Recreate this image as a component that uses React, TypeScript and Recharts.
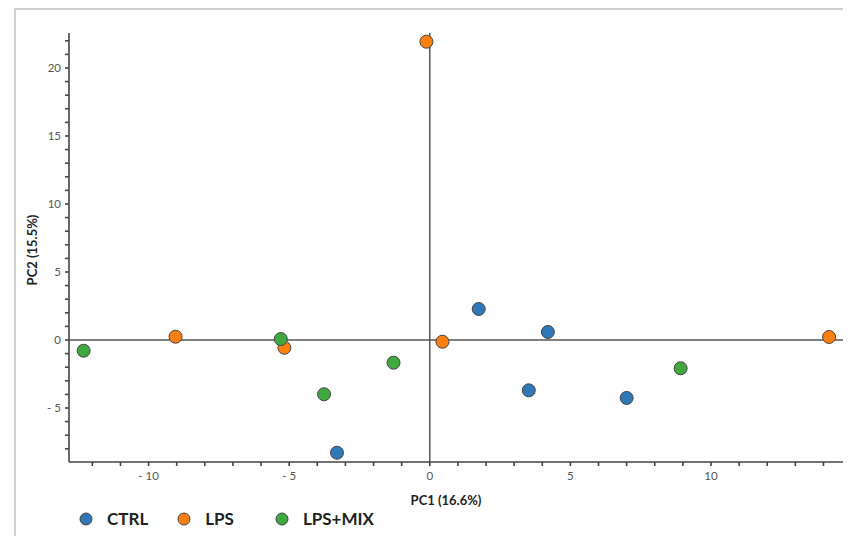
import React from 'react';
import {
  ScatterChart,
  Scatter,
  XAxis,
  YAxis,
  ReferenceLine,
} from 'recharts';

// PCA scores per group
const ctrlPoints = [
  { x: 1.74, y: 2.28 },
  { x: 4.2, y: 0.59 },
  { x: 3.52, y: -3.7 },
  { x: 7.0, y: -4.26 },
  { x: -3.3, y: -8.29 },
];

const lpsPoints = [
  { x: -0.12, y: 21.93 },
  { x: -9.04, y: 0.24 },
  { x: -5.17, y: -0.57 },
  { x: 0.45, y: -0.13 },
  { x: 14.2, y: 0.22 },
];

const mixPoints = [
  { x: -12.31, y: -0.79 },
  { x: -5.3, y: 0.07 },
  { x: -3.76, y: -3.99 },
  { x: -1.29, y: -1.67 },
  { x: 8.92, y: -2.08 },
];

const seriesNames = ['CTRL', 'LPS', 'LPS+MIX'];
const COLORS = ['#2f78b8', '#ff7f0e', '#3fa83f'];

const X_DOMAIN: [number, number] = [-12.83, 14.73];
const Y_DOMAIN: [number, number] = [-8.97, 22.57];

// one tick per unit, labels only on multiples of 5
const xTicks = Array.from({ length: 27 }, (_, i) => i - 12);
const yTicks = Array.from({ length: 31 }, (_, i) => i - 8);

const FONT = 'Lato, "Open Sans", sans-serif';

const fmtTick = (v: number) => {
  if (v % 5 !== 0) return '';
  return v < 0 ? `- ${Math.abs(v)}` : `${v}`;
};

const Dot = (color: string) => (props: any) => (
  <circle cx={props.cx} cy={props.cy} r={6.5} fill={color} stroke="#444" strokeWidth={1} />
);

const App: React.FC = () => {
  const groups = [ctrlPoints, lpsPoints, mixPoints];

  return (
    <div style={{ position: 'relative', width: 843, height: 528, fontFamily: FONT }}>
      {/* grey frame round the figure, only top and left edges visible */}
      <div
        style={{
          position: 'absolute',
          left: 6,
          top: 0,
          width: 840,
          height: 530,
          borderLeft: '2px solid #cfcfcf',
          borderTop: '2px solid #cfcfcf',
        }}
      />
      <ScatterChart
        width={843}
        height={528}
        margin={{ top: 25, right: 7, left: 0, bottom: 0 }}
        style={{ position: 'absolute', left: 0, top: 0 }}
      >
        <XAxis
          type="number"
          dataKey="x"
          domain={X_DOMAIN}
          allowDataOverflow
          ticks={xTicks}
          interval={0}
          tickFormatter={fmtTick}
          height={74}
          tickSize={4}
          stroke="#444"
          strokeWidth={1.6}
          tick={{ fill: '#555', fontSize: 11.5, fontFamily: FONT }}
          tickMargin={6}
          label={{
            content: () => (
              <text
                x={438}
                y={497}
                textAnchor="middle"
                fontWeight="bold"
                fontSize={13}
                fill="#222"
                fontFamily={FONT}
              >
                PC1 (16.6%)
              </text>
            ),
          }}
        />
        <YAxis
          type="number"
          dataKey="y"
          domain={Y_DOMAIN}
          allowDataOverflow
          ticks={yTicks}
          interval={0}
          tickFormatter={fmtTick}
          width={61}
          tickSize={4}
          stroke="#444"
          strokeWidth={1.6}
          tick={{ fill: '#555', fontSize: 11.5, fontFamily: FONT }}
          tickMargin={4}
          label={{
            content: () => (
              <text
                x={24}
                y={242}
                transform="rotate(-90 24 242)"
                textAnchor="middle"
                dominantBaseline="central"
                fontWeight="bold"
                fontSize={13}
                fill="#222"
                fontFamily={FONT}
              >
                PC2 (15.5%)
              </text>
            ),
          }}
        />
        <ReferenceLine x={0} stroke="#555" strokeWidth={1.5} />
        <ReferenceLine y={0} stroke="#555" strokeWidth={1.5} />
        {groups.map((pts, i) => (
          <Scatter
            key={seriesNames[i]}
            name={seriesNames[i]}
            data={pts}
            fill={COLORS[i]}
            shape={Dot(COLORS[i])}
            isAnimationActive={false}
          />
        ))}
      </ScatterChart>
      {/* legend row under the x axis title */}
      <div
        style={{
          position: 'absolute',
          left: 71,
          top: 500,
          display: 'flex',
          alignItems: 'center',
          fontWeight: 'bold',
          fontSize: 17,
          color: '#222',
        }}
      >
        {seriesNames.map((n, i) => (
          <div key={n} style={{ display: 'flex', alignItems: 'center', marginRight: i === 0 ? 29 : 41 }}>
            <svg width={14} height={14} style={{ marginRight: 14 }}>
              <circle cx={7} cy={7} r={6} fill={COLORS[i]} stroke="#444" strokeWidth={1} />
            </svg>
            <span>{n}</span>
          </div>
        ))}
      </div>
    </div>
  );
};

export default App;
